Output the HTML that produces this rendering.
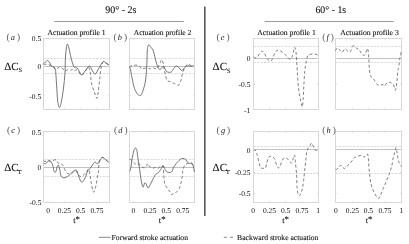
<!DOCTYPE html>
<html><head><meta charset="utf-8"><style>
html,body{margin:0;padding:0;background:#fff;}
body{width:409px;height:244px;overflow:hidden;}
svg text{stroke:#111;stroke-width:0.1px;}
svg{display:block;will-change:transform;font-family:"Liberation Serif",serif;text-rendering:geometricPrecision;-webkit-font-smoothing:antialiased;}
</style></head><body>
<svg width="409" height="244" viewBox="0 0 409 244">
<rect width="409" height="244" fill="#fff"/>
<line x1="43.5" y1="58.5" x2="109.5" y2="58.5" stroke="#d8d8d8" stroke-width="0.9" stroke-dasharray="2.4,1.1"/>
<line x1="43.5" y1="73.5" x2="109.5" y2="73.5" stroke="#d8d8d8" stroke-width="0.9" stroke-dasharray="2.4,1.1"/>
<line x1="43.5" y1="66.5" x2="109.5" y2="66.5" stroke="#c2c2c2" stroke-width="1"/>
<rect x="43.5" y="38.5" width="66.0" height="71.0" fill="none" stroke="#d8d8d8" stroke-width="1"/>
<line x1="129.5" y1="58.5" x2="194.5" y2="58.5" stroke="#d8d8d8" stroke-width="0.9" stroke-dasharray="2.4,1.1"/>
<line x1="129.5" y1="73.5" x2="194.5" y2="73.5" stroke="#d8d8d8" stroke-width="0.9" stroke-dasharray="2.4,1.1"/>
<line x1="129.5" y1="66.5" x2="194.5" y2="66.5" stroke="#c2c2c2" stroke-width="1"/>
<rect x="129.5" y="38.5" width="65.0" height="71.0" fill="none" stroke="#d8d8d8" stroke-width="1"/>
<line x1="43.5" y1="159.5" x2="109.5" y2="159.5" stroke="#d8d8d8" stroke-width="0.9" stroke-dasharray="2.4,1.1"/>
<line x1="43.5" y1="176.5" x2="109.5" y2="176.5" stroke="#d8d8d8" stroke-width="0.9" stroke-dasharray="2.4,1.1"/>
<line x1="43.5" y1="167.5" x2="109.5" y2="167.5" stroke="#c2c2c2" stroke-width="1"/>
<rect x="43.5" y="131.5" width="66.0" height="71.0" fill="none" stroke="#d8d8d8" stroke-width="1"/>
<line x1="129.5" y1="159.5" x2="194.5" y2="159.5" stroke="#d8d8d8" stroke-width="0.9" stroke-dasharray="2.4,1.1"/>
<line x1="129.5" y1="176.5" x2="194.5" y2="176.5" stroke="#d8d8d8" stroke-width="0.9" stroke-dasharray="2.4,1.1"/>
<line x1="129.5" y1="167.5" x2="194.5" y2="167.5" stroke="#c2c2c2" stroke-width="1"/>
<rect x="129.5" y="131.5" width="65.0" height="71.0" fill="none" stroke="#d8d8d8" stroke-width="1"/>
<line x1="253.5" y1="46.5" x2="318.5" y2="46.5" stroke="#d8d8d8" stroke-width="0.9" stroke-dasharray="2.4,1.1"/>
<line x1="253.5" y1="62.5" x2="318.5" y2="62.5" stroke="#d8d8d8" stroke-width="0.9" stroke-dasharray="2.4,1.1"/>
<line x1="253.5" y1="58.5" x2="318.5" y2="58.5" stroke="#c2c2c2" stroke-width="1"/>
<rect x="253.5" y="38.5" width="65.0" height="71.0" fill="none" stroke="#d8d8d8" stroke-width="1"/>
<line x1="335.5" y1="46.5" x2="401.5" y2="46.5" stroke="#d8d8d8" stroke-width="0.9" stroke-dasharray="2.4,1.1"/>
<line x1="335.5" y1="62.5" x2="401.5" y2="62.5" stroke="#d8d8d8" stroke-width="0.9" stroke-dasharray="2.4,1.1"/>
<line x1="335.5" y1="58.5" x2="401.5" y2="58.5" stroke="#c2c2c2" stroke-width="1"/>
<rect x="335.5" y="38.5" width="66.0" height="71.0" fill="none" stroke="#d8d8d8" stroke-width="1"/>
<line x1="253.5" y1="146.5" x2="318.5" y2="146.5" stroke="#d8d8d8" stroke-width="0.9" stroke-dasharray="2.4,1.1"/>
<line x1="253.5" y1="173.5" x2="318.5" y2="173.5" stroke="#d8d8d8" stroke-width="0.9" stroke-dasharray="2.4,1.1"/>
<line x1="253.5" y1="149.5" x2="318.5" y2="149.5" stroke="#c2c2c2" stroke-width="1"/>
<rect x="253.5" y="131.5" width="65.0" height="71.0" fill="none" stroke="#d8d8d8" stroke-width="1"/>
<line x1="335.5" y1="146.5" x2="401.5" y2="146.5" stroke="#d8d8d8" stroke-width="0.9" stroke-dasharray="2.4,1.1"/>
<line x1="335.5" y1="173.5" x2="401.5" y2="173.5" stroke="#d8d8d8" stroke-width="0.9" stroke-dasharray="2.4,1.1"/>
<line x1="335.5" y1="149.5" x2="401.5" y2="149.5" stroke="#c2c2c2" stroke-width="1"/>
<rect x="335.5" y="131.5" width="66.0" height="71.0" fill="none" stroke="#d8d8d8" stroke-width="1"/>
<line x1="48" y1="109.5" x2="48" y2="107.9" stroke="#d8d8d8" stroke-width="0.8"/>
<line x1="48" y1="38.5" x2="48" y2="40.1" stroke="#d8d8d8" stroke-width="0.8"/>
<line x1="64.4" y1="109.5" x2="64.4" y2="107.9" stroke="#d8d8d8" stroke-width="0.8"/>
<line x1="64.4" y1="38.5" x2="64.4" y2="40.1" stroke="#d8d8d8" stroke-width="0.8"/>
<line x1="80.6" y1="109.5" x2="80.6" y2="107.9" stroke="#d8d8d8" stroke-width="0.8"/>
<line x1="80.6" y1="38.5" x2="80.6" y2="40.1" stroke="#d8d8d8" stroke-width="0.8"/>
<line x1="97" y1="109.5" x2="97" y2="107.9" stroke="#d8d8d8" stroke-width="0.8"/>
<line x1="97" y1="38.5" x2="97" y2="40.1" stroke="#d8d8d8" stroke-width="0.8"/>
<line x1="43.5" y1="66.5" x2="45.1" y2="66.5" stroke="#d8d8d8" stroke-width="0.8"/>
<line x1="109.5" y1="66.5" x2="107.9" y2="66.5" stroke="#d8d8d8" stroke-width="0.8"/>
<line x1="43.5" y1="95" x2="45.1" y2="95" stroke="#d8d8d8" stroke-width="0.8"/>
<line x1="109.5" y1="95" x2="107.9" y2="95" stroke="#d8d8d8" stroke-width="0.8"/>
<line x1="133.3" y1="109.5" x2="133.3" y2="107.9" stroke="#d8d8d8" stroke-width="0.8"/>
<line x1="133.3" y1="38.5" x2="133.3" y2="40.1" stroke="#d8d8d8" stroke-width="0.8"/>
<line x1="150" y1="109.5" x2="150" y2="107.9" stroke="#d8d8d8" stroke-width="0.8"/>
<line x1="150" y1="38.5" x2="150" y2="40.1" stroke="#d8d8d8" stroke-width="0.8"/>
<line x1="166.3" y1="109.5" x2="166.3" y2="107.9" stroke="#d8d8d8" stroke-width="0.8"/>
<line x1="166.3" y1="38.5" x2="166.3" y2="40.1" stroke="#d8d8d8" stroke-width="0.8"/>
<line x1="182.7" y1="109.5" x2="182.7" y2="107.9" stroke="#d8d8d8" stroke-width="0.8"/>
<line x1="182.7" y1="38.5" x2="182.7" y2="40.1" stroke="#d8d8d8" stroke-width="0.8"/>
<line x1="129.5" y1="66.5" x2="131.1" y2="66.5" stroke="#d8d8d8" stroke-width="0.8"/>
<line x1="194.5" y1="66.5" x2="192.9" y2="66.5" stroke="#d8d8d8" stroke-width="0.8"/>
<line x1="129.5" y1="95" x2="131.1" y2="95" stroke="#d8d8d8" stroke-width="0.8"/>
<line x1="194.5" y1="95" x2="192.9" y2="95" stroke="#d8d8d8" stroke-width="0.8"/>
<line x1="48" y1="202.5" x2="48" y2="200.9" stroke="#d8d8d8" stroke-width="0.8"/>
<line x1="48" y1="131.5" x2="48" y2="133.1" stroke="#d8d8d8" stroke-width="0.8"/>
<line x1="64.4" y1="202.5" x2="64.4" y2="200.9" stroke="#d8d8d8" stroke-width="0.8"/>
<line x1="64.4" y1="131.5" x2="64.4" y2="133.1" stroke="#d8d8d8" stroke-width="0.8"/>
<line x1="80.6" y1="202.5" x2="80.6" y2="200.9" stroke="#d8d8d8" stroke-width="0.8"/>
<line x1="80.6" y1="131.5" x2="80.6" y2="133.1" stroke="#d8d8d8" stroke-width="0.8"/>
<line x1="97" y1="202.5" x2="97" y2="200.9" stroke="#d8d8d8" stroke-width="0.8"/>
<line x1="97" y1="131.5" x2="97" y2="133.1" stroke="#d8d8d8" stroke-width="0.8"/>
<line x1="43.5" y1="167.3" x2="45.1" y2="167.3" stroke="#d8d8d8" stroke-width="0.8"/>
<line x1="109.5" y1="167.3" x2="107.9" y2="167.3" stroke="#d8d8d8" stroke-width="0.8"/>
<line x1="133.3" y1="202.5" x2="133.3" y2="200.9" stroke="#d8d8d8" stroke-width="0.8"/>
<line x1="133.3" y1="131.5" x2="133.3" y2="133.1" stroke="#d8d8d8" stroke-width="0.8"/>
<line x1="150" y1="202.5" x2="150" y2="200.9" stroke="#d8d8d8" stroke-width="0.8"/>
<line x1="150" y1="131.5" x2="150" y2="133.1" stroke="#d8d8d8" stroke-width="0.8"/>
<line x1="166.3" y1="202.5" x2="166.3" y2="200.9" stroke="#d8d8d8" stroke-width="0.8"/>
<line x1="166.3" y1="131.5" x2="166.3" y2="133.1" stroke="#d8d8d8" stroke-width="0.8"/>
<line x1="182.7" y1="202.5" x2="182.7" y2="200.9" stroke="#d8d8d8" stroke-width="0.8"/>
<line x1="182.7" y1="131.5" x2="182.7" y2="133.1" stroke="#d8d8d8" stroke-width="0.8"/>
<line x1="129.5" y1="167.3" x2="131.1" y2="167.3" stroke="#d8d8d8" stroke-width="0.8"/>
<line x1="194.5" y1="167.3" x2="192.9" y2="167.3" stroke="#d8d8d8" stroke-width="0.8"/>
<line x1="269.5" y1="109.5" x2="269.5" y2="107.9" stroke="#d8d8d8" stroke-width="0.8"/>
<line x1="269.5" y1="38.5" x2="269.5" y2="40.1" stroke="#d8d8d8" stroke-width="0.8"/>
<line x1="285.6" y1="109.5" x2="285.6" y2="107.9" stroke="#d8d8d8" stroke-width="0.8"/>
<line x1="285.6" y1="38.5" x2="285.6" y2="40.1" stroke="#d8d8d8" stroke-width="0.8"/>
<line x1="302" y1="109.5" x2="302" y2="107.9" stroke="#d8d8d8" stroke-width="0.8"/>
<line x1="302" y1="38.5" x2="302" y2="40.1" stroke="#d8d8d8" stroke-width="0.8"/>
<line x1="253.5" y1="58.5" x2="255.1" y2="58.5" stroke="#d8d8d8" stroke-width="0.8"/>
<line x1="318.5" y1="58.5" x2="316.9" y2="58.5" stroke="#d8d8d8" stroke-width="0.8"/>
<line x1="253.5" y1="84.2" x2="255.1" y2="84.2" stroke="#d8d8d8" stroke-width="0.8"/>
<line x1="318.5" y1="84.2" x2="316.9" y2="84.2" stroke="#d8d8d8" stroke-width="0.8"/>
<line x1="352.4" y1="109.5" x2="352.4" y2="107.9" stroke="#d8d8d8" stroke-width="0.8"/>
<line x1="352.4" y1="38.5" x2="352.4" y2="40.1" stroke="#d8d8d8" stroke-width="0.8"/>
<line x1="368.4" y1="109.5" x2="368.4" y2="107.9" stroke="#d8d8d8" stroke-width="0.8"/>
<line x1="368.4" y1="38.5" x2="368.4" y2="40.1" stroke="#d8d8d8" stroke-width="0.8"/>
<line x1="385" y1="109.5" x2="385" y2="107.9" stroke="#d8d8d8" stroke-width="0.8"/>
<line x1="385" y1="38.5" x2="385" y2="40.1" stroke="#d8d8d8" stroke-width="0.8"/>
<line x1="335.5" y1="58.5" x2="337.1" y2="58.5" stroke="#d8d8d8" stroke-width="0.8"/>
<line x1="401.5" y1="58.5" x2="399.9" y2="58.5" stroke="#d8d8d8" stroke-width="0.8"/>
<line x1="335.5" y1="84.2" x2="337.1" y2="84.2" stroke="#d8d8d8" stroke-width="0.8"/>
<line x1="401.5" y1="84.2" x2="399.9" y2="84.2" stroke="#d8d8d8" stroke-width="0.8"/>
<line x1="269.5" y1="202.5" x2="269.5" y2="200.9" stroke="#d8d8d8" stroke-width="0.8"/>
<line x1="269.5" y1="131.5" x2="269.5" y2="133.1" stroke="#d8d8d8" stroke-width="0.8"/>
<line x1="285.6" y1="202.5" x2="285.6" y2="200.9" stroke="#d8d8d8" stroke-width="0.8"/>
<line x1="285.6" y1="131.5" x2="285.6" y2="133.1" stroke="#d8d8d8" stroke-width="0.8"/>
<line x1="302" y1="202.5" x2="302" y2="200.9" stroke="#d8d8d8" stroke-width="0.8"/>
<line x1="302" y1="131.5" x2="302" y2="133.1" stroke="#d8d8d8" stroke-width="0.8"/>
<line x1="253.5" y1="149.8" x2="255.1" y2="149.8" stroke="#d8d8d8" stroke-width="0.8"/>
<line x1="318.5" y1="149.8" x2="316.9" y2="149.8" stroke="#d8d8d8" stroke-width="0.8"/>
<line x1="253.5" y1="172.5" x2="255.1" y2="172.5" stroke="#d8d8d8" stroke-width="0.8"/>
<line x1="318.5" y1="172.5" x2="316.9" y2="172.5" stroke="#d8d8d8" stroke-width="0.8"/>
<line x1="253.5" y1="193.5" x2="255.1" y2="193.5" stroke="#d8d8d8" stroke-width="0.8"/>
<line x1="318.5" y1="193.5" x2="316.9" y2="193.5" stroke="#d8d8d8" stroke-width="0.8"/>
<line x1="352.4" y1="202.5" x2="352.4" y2="200.9" stroke="#d8d8d8" stroke-width="0.8"/>
<line x1="352.4" y1="131.5" x2="352.4" y2="133.1" stroke="#d8d8d8" stroke-width="0.8"/>
<line x1="368.4" y1="202.5" x2="368.4" y2="200.9" stroke="#d8d8d8" stroke-width="0.8"/>
<line x1="368.4" y1="131.5" x2="368.4" y2="133.1" stroke="#d8d8d8" stroke-width="0.8"/>
<line x1="385" y1="202.5" x2="385" y2="200.9" stroke="#d8d8d8" stroke-width="0.8"/>
<line x1="385" y1="131.5" x2="385" y2="133.1" stroke="#d8d8d8" stroke-width="0.8"/>
<line x1="335.5" y1="149.8" x2="337.1" y2="149.8" stroke="#d8d8d8" stroke-width="0.8"/>
<line x1="401.5" y1="149.8" x2="399.9" y2="149.8" stroke="#d8d8d8" stroke-width="0.8"/>
<line x1="335.5" y1="172.5" x2="337.1" y2="172.5" stroke="#d8d8d8" stroke-width="0.8"/>
<line x1="401.5" y1="172.5" x2="399.9" y2="172.5" stroke="#d8d8d8" stroke-width="0.8"/>
<line x1="335.5" y1="193.5" x2="337.1" y2="193.5" stroke="#d8d8d8" stroke-width="0.8"/>
<line x1="401.5" y1="193.5" x2="399.9" y2="193.5" stroke="#d8d8d8" stroke-width="0.8"/>
<path d="M43.50,64.30 C44.17,64.32 46.33,64.20 47.50,64.40 C48.67,64.60 49.50,65.07 50.50,65.50 C51.50,65.93 52.67,66.33 53.50,67.00 C54.33,67.67 54.83,69.30 55.50,69.50 C56.17,69.70 56.75,68.62 57.50,68.20 C58.25,67.78 59.12,66.93 60.00,67.00 C60.88,67.07 61.98,67.93 62.80,68.60 C63.62,69.27 64.28,70.68 64.90,71.00 C65.52,71.32 65.95,70.77 66.50,70.50 C67.05,70.23 67.52,69.45 68.20,69.40 C68.88,69.35 69.92,70.20 70.60,70.20 C71.28,70.20 71.73,69.27 72.30,69.40 C72.87,69.53 73.37,70.93 74.00,71.00 C74.63,71.07 75.35,69.72 76.10,69.80 C76.85,69.88 77.63,70.58 78.50,71.50 C79.37,72.42 80.38,75.05 81.30,75.30 C82.22,75.55 83.13,73.97 84.00,73.00 C84.87,72.03 85.75,70.50 86.50,69.50 C87.25,68.50 87.87,66.42 88.50,67.00 C89.13,67.58 89.80,70.28 90.30,73.00 C90.80,75.72 90.82,80.12 91.50,83.30 C92.18,86.48 93.50,89.58 94.40,92.10 C95.30,94.62 96.27,98.40 96.90,98.40 C97.53,98.40 97.75,95.10 98.20,92.10 C98.65,89.10 99.25,83.58 99.60,80.40 C99.95,77.22 99.98,75.40 100.30,73.00 C100.62,70.60 101.02,67.90 101.50,66.00 C101.98,64.10 102.45,62.10 103.20,61.60 C103.95,61.10 105.03,62.43 106.00,63.00 C106.97,63.57 108.50,64.67 109.00,65.00" fill="none" stroke="#565656" stroke-width="0.75" stroke-linejoin="round" stroke-dasharray="3,2.2"/>
<path d="M43.50,63.60 C43.83,63.33 44.77,62.50 45.50,62.00 C46.23,61.50 47.08,60.27 47.90,60.60 C48.72,60.93 49.85,63.15 50.40,64.00 C50.95,64.85 50.65,65.22 51.20,65.70 C51.75,66.18 53.02,66.30 53.70,66.90 C54.38,67.50 54.95,68.28 55.30,69.30 C55.65,70.32 55.58,70.38 55.80,73.00 C56.02,75.62 56.28,80.33 56.60,85.00 C56.92,89.67 57.22,97.23 57.70,101.00 C58.18,104.77 58.87,107.60 59.50,107.60 C60.13,107.60 60.83,104.27 61.50,101.00 C62.17,97.73 62.92,92.67 63.50,88.00 C64.08,83.33 64.68,78.00 65.00,73.00 C65.32,68.00 65.17,62.17 65.40,58.00 C65.63,53.83 66.07,50.32 66.40,48.00 C66.73,45.68 66.98,44.10 67.40,44.10 C67.82,44.10 68.28,45.68 68.90,48.00 C69.52,50.32 70.30,54.92 71.10,58.00 C71.90,61.08 73.00,64.95 73.70,66.50 C74.40,68.05 74.70,67.03 75.30,67.30 C75.90,67.57 76.68,67.48 77.30,68.10 C77.92,68.72 78.23,69.87 79.00,71.00 C79.77,72.13 80.90,74.90 81.90,74.90 C82.90,74.90 83.77,72.48 85.00,71.00 C86.23,69.52 88.13,66.17 89.30,66.00 C90.47,65.83 91.03,68.65 92.00,70.00 C92.97,71.35 93.93,74.43 95.10,74.10 C96.27,73.77 97.65,70.08 99.00,68.00 C100.35,65.92 102.03,62.43 103.20,61.60 C104.37,60.77 105.03,62.43 106.00,63.00 C106.97,63.57 108.50,64.67 109.00,65.00" fill="none" stroke="#545454" stroke-width="0.8" stroke-linejoin="round"/>
<path d="M129.50,67.00 C129.75,66.83 130.35,66.27 131.00,66.00 C131.65,65.73 132.38,65.53 133.40,65.40 C134.42,65.27 136.00,65.00 137.10,65.20 C138.20,65.40 139.27,66.00 140.00,66.60 C140.73,67.20 140.63,68.55 141.50,68.80 C142.37,69.05 144.10,68.22 145.20,68.10 C146.30,67.98 147.23,67.98 148.10,68.10 C148.97,68.22 149.65,68.92 150.40,68.80 C151.15,68.68 151.92,67.47 152.60,67.40 C153.28,67.33 153.78,68.23 154.50,68.40 C155.22,68.57 156.30,68.60 156.90,68.40 C157.50,68.20 157.55,68.15 158.10,67.20 C158.65,66.25 159.58,63.93 160.20,62.70 C160.82,61.47 161.32,59.80 161.80,59.80 C162.28,59.80 162.75,61.33 163.10,62.70 C163.45,64.07 163.52,66.02 163.90,68.00 C164.28,69.98 164.88,72.55 165.40,74.60 C165.92,76.65 166.05,79.07 167.00,80.30 C167.95,81.53 169.87,81.45 171.10,82.00 C172.33,82.55 173.17,83.07 174.40,83.60 C175.63,84.13 177.40,85.75 178.50,85.20 C179.60,84.65 180.32,82.33 181.00,80.30 C181.68,78.27 181.93,75.18 182.60,73.00 C183.27,70.82 184.05,68.70 185.00,67.20 C185.95,65.70 187.33,64.27 188.30,64.00 C189.27,63.73 189.85,65.33 190.80,65.60 C191.75,65.87 193.47,65.60 194.00,65.60" fill="none" stroke="#565656" stroke-width="0.75" stroke-linejoin="round" stroke-dasharray="3,2.2"/>
<path d="M129.50,66.60 C129.67,67.10 130.08,67.75 130.50,69.60 C130.92,71.45 131.33,74.53 132.00,77.70 C132.67,80.87 133.57,85.85 134.50,88.60 C135.43,91.35 136.72,93.07 137.60,94.20 C138.48,95.33 139.18,95.30 139.80,95.40 C140.42,95.50 140.63,96.03 141.30,94.80 C141.97,93.57 143.08,90.47 143.80,88.00 C144.52,85.53 145.12,83.43 145.60,80.00 C146.08,76.57 146.43,72.07 146.70,67.40 C146.97,62.73 147.02,55.48 147.20,52.00 C147.38,48.52 147.50,47.68 147.80,46.50 C148.10,45.32 148.45,44.73 149.00,44.90 C149.55,45.07 150.38,46.55 151.10,47.50 C151.82,48.45 152.70,49.15 153.30,50.60 C153.90,52.05 154.23,54.35 154.70,56.20 C155.17,58.05 155.63,59.97 156.10,61.70 C156.57,63.43 157.03,65.42 157.50,66.60 C157.97,67.78 158.52,68.33 158.90,68.80 C159.28,69.27 159.38,69.47 159.80,69.40 C160.22,69.33 160.85,68.92 161.40,68.40 C161.95,67.88 162.62,66.50 163.10,66.30 C163.58,66.10 163.83,66.43 164.30,67.20 C164.77,67.97 165.32,70.08 165.90,70.90 C166.48,71.72 166.93,71.90 167.80,72.10 C168.67,72.30 170.13,72.63 171.10,72.10 C172.07,71.57 172.78,69.90 173.60,68.90 C174.42,67.90 175.18,66.38 176.00,66.10 C176.82,65.82 177.53,66.47 178.50,67.20 C179.47,67.93 180.85,70.37 181.80,70.50 C182.75,70.63 183.25,68.82 184.20,68.00 C185.15,67.18 186.40,65.87 187.50,65.60 C188.60,65.33 189.72,66.40 190.80,66.40 C191.88,66.40 193.47,65.73 194.00,65.60" fill="none" stroke="#545454" stroke-width="0.8" stroke-linejoin="round"/>
<path d="M43.50,160.80 C43.75,160.90 44.15,161.43 45.00,161.40 C45.85,161.37 47.48,160.55 48.60,160.60 C49.72,160.65 50.97,161.72 51.70,161.70 C52.43,161.68 52.28,160.82 53.00,160.50 C53.72,160.18 55.27,159.55 56.00,159.80 C56.73,160.05 56.98,161.40 57.40,162.00 C57.82,162.60 57.90,163.15 58.50,163.40 C59.10,163.65 60.33,163.23 61.00,163.50 C61.67,163.77 61.93,164.15 62.50,165.00 C63.07,165.85 63.72,167.30 64.40,168.60 C65.08,169.90 65.87,171.97 66.60,172.80 C67.33,173.63 67.82,173.60 68.80,173.60 C69.78,173.60 71.40,173.30 72.50,172.80 C73.60,172.30 74.45,170.33 75.40,170.60 C76.35,170.87 77.37,173.40 78.20,174.40 C79.03,175.40 79.53,176.48 80.40,176.60 C81.27,176.72 82.42,175.83 83.40,175.10 C84.38,174.37 85.43,173.18 86.30,172.20 C87.17,171.22 87.95,168.53 88.60,169.20 C89.25,169.87 89.73,173.82 90.20,176.20 C90.67,178.58 90.90,180.87 91.40,183.50 C91.90,186.13 92.63,190.98 93.20,192.00 C93.77,193.02 94.28,190.92 94.80,189.60 C95.32,188.28 95.85,186.33 96.30,184.10 C96.75,181.87 97.13,178.35 97.50,176.20 C97.87,174.05 98.27,173.10 98.50,171.20 C98.73,169.30 98.58,166.73 98.90,164.80 C99.22,162.87 99.78,160.83 100.40,159.60 C101.02,158.37 101.75,157.40 102.60,157.40 C103.45,157.40 104.40,158.73 105.50,159.60 C106.60,160.47 108.58,162.10 109.20,162.60" fill="none" stroke="#565656" stroke-width="0.75" stroke-linejoin="round" stroke-dasharray="3,2.2"/>
<path d="M43.50,163.20 C43.85,163.28 44.92,163.95 45.60,163.70 C46.28,163.45 47.02,162.22 47.60,161.70 C48.18,161.18 48.50,160.52 49.10,160.60 C49.70,160.68 50.60,161.43 51.20,162.20 C51.80,162.97 52.27,163.83 52.70,165.20 C53.13,166.57 53.40,169.20 53.80,170.40 C54.20,171.60 54.68,172.40 55.10,172.40 C55.52,172.40 55.93,171.42 56.30,170.40 C56.67,169.38 56.95,167.17 57.30,166.30 C57.65,165.43 58.05,164.95 58.40,165.20 C58.75,165.45 58.98,166.08 59.40,167.80 C59.82,169.52 60.38,173.88 60.90,175.50 C61.42,177.12 61.80,177.13 62.50,177.50 C63.20,177.87 64.30,177.87 65.10,177.70 C65.90,177.53 66.45,177.07 67.30,176.50 C68.15,175.93 69.22,175.15 70.20,174.30 C71.18,173.45 72.23,172.12 73.20,171.40 C74.17,170.68 75.28,169.87 76.00,170.00 C76.72,170.13 77.00,170.98 77.50,172.20 C78.00,173.42 78.38,175.70 79.00,177.30 C79.62,178.90 80.47,181.18 81.20,181.80 C81.93,182.42 82.67,181.87 83.40,181.00 C84.13,180.13 84.87,178.32 85.60,176.60 C86.33,174.88 86.93,172.18 87.80,170.70 C88.67,169.22 89.93,168.82 90.80,167.70 C91.67,166.58 92.27,164.93 93.00,164.00 C93.73,163.07 94.47,162.10 95.20,162.10 C95.93,162.10 96.67,164.30 97.40,164.00 C98.13,163.70 98.73,161.40 99.60,160.30 C100.47,159.20 101.62,157.52 102.60,157.40 C103.58,157.28 104.40,158.73 105.50,159.60 C106.60,160.47 108.58,162.10 109.20,162.60" fill="none" stroke="#545454" stroke-width="0.8" stroke-linejoin="round"/>
<path d="M129.50,159.10 C129.77,159.22 130.53,159.38 131.10,159.80 C131.67,160.22 132.28,160.98 132.90,161.60 C133.52,162.22 134.18,162.98 134.80,163.50 C135.42,164.02 135.98,164.60 136.60,164.70 C137.22,164.80 137.88,164.10 138.50,164.10 C139.12,164.10 139.70,164.20 140.30,164.70 C140.90,165.20 141.38,166.58 142.10,167.10 C142.82,167.62 143.87,168.00 144.60,167.80 C145.33,167.60 145.98,166.62 146.50,165.90 C147.02,165.18 147.30,163.50 147.70,163.50 C148.10,163.50 148.33,165.25 148.90,165.90 C149.47,166.55 150.37,167.03 151.10,167.40 C151.83,167.77 152.57,168.10 153.30,168.10 C154.03,168.10 154.63,167.40 155.50,167.40 C156.37,167.40 157.63,168.35 158.50,168.10 C159.37,167.85 159.93,166.17 160.70,165.90 C161.47,165.63 162.57,164.72 163.10,166.50 C163.63,168.28 163.65,173.83 163.90,176.60 C164.15,179.37 164.22,181.45 164.60,183.10 C164.98,184.75 165.60,185.38 166.20,186.50 C166.80,187.62 167.55,188.88 168.20,189.80 C168.85,190.72 169.60,191.20 170.10,192.00 C170.60,192.80 170.47,194.43 171.20,194.60 C171.93,194.77 173.48,193.55 174.50,193.00 C175.52,192.45 176.47,192.17 177.30,191.30 C178.13,190.43 178.88,189.27 179.50,187.80 C180.12,186.33 180.58,184.22 181.00,182.50 C181.42,180.78 181.73,179.17 182.00,177.50 C182.27,175.83 182.40,173.88 182.60,172.50 C182.80,171.12 182.87,170.37 183.20,169.20 C183.53,168.03 183.85,166.47 184.60,165.50 C185.35,164.53 186.67,163.75 187.70,163.40 C188.73,163.05 189.77,163.05 190.80,163.40 C191.83,163.75 193.38,165.15 193.90,165.50" fill="none" stroke="#565656" stroke-width="0.75" stroke-linejoin="round" stroke-dasharray="3,2.2"/>
<path d="M129.80,171.40 C130.02,170.58 130.78,168.23 131.10,166.50 C131.42,164.77 131.40,162.95 131.70,161.00 C132.00,159.05 132.50,156.65 132.90,154.80 C133.30,152.95 133.65,151.02 134.10,149.90 C134.55,148.78 135.13,148.00 135.60,148.10 C136.07,148.20 136.53,148.97 136.90,150.50 C137.27,152.03 137.48,155.03 137.80,157.30 C138.12,159.57 138.48,162.05 138.80,164.10 C139.12,166.15 139.45,167.87 139.70,169.60 C139.95,171.33 140.00,172.42 140.30,174.50 C140.60,176.58 141.03,179.98 141.50,182.10 C141.97,184.22 142.58,187.05 143.10,187.20 C143.62,187.35 144.12,183.57 144.60,183.00 C145.08,182.43 145.42,182.97 146.00,183.80 C146.58,184.63 147.37,187.92 148.10,188.00 C148.83,188.08 149.65,185.65 150.40,184.30 C151.15,182.95 151.87,181.37 152.60,179.90 C153.33,178.43 154.20,176.48 154.80,175.50 C155.40,174.52 155.58,174.50 156.20,174.00 C156.82,173.50 157.75,173.23 158.50,172.50 C159.25,171.77 159.93,170.77 160.70,169.60 C161.47,168.43 162.35,165.50 163.10,165.50 C163.85,165.50 164.52,168.52 165.20,169.60 C165.88,170.68 166.32,171.53 167.20,172.00 C168.08,172.47 169.63,172.62 170.50,172.40 C171.37,172.18 171.92,171.52 172.40,170.70 C172.88,169.88 172.73,168.72 173.40,167.50 C174.07,166.28 175.47,164.57 176.40,163.40 C177.33,162.23 178.15,161.30 179.00,160.50 C179.85,159.70 180.57,158.87 181.50,158.60 C182.43,158.33 183.85,158.70 184.60,158.90 C185.35,159.10 185.52,159.23 186.00,159.80 C186.48,160.37 186.92,161.68 187.50,162.30 C188.08,162.92 188.83,163.40 189.50,163.50 C190.17,163.60 191.00,162.80 191.50,162.90 C192.00,163.00 192.17,163.38 192.50,164.10 C192.83,164.82 193.18,165.88 193.50,167.20 C193.82,168.52 194.25,171.20 194.40,172.00" fill="none" stroke="#545454" stroke-width="0.8" stroke-linejoin="round"/>
<path d="M253.50,57.10 C253.78,57.23 254.55,57.90 255.20,57.90 C255.85,57.90 256.67,57.83 257.40,57.10 C258.13,56.37 258.87,54.47 259.60,53.50 C260.33,52.53 261.07,51.43 261.80,51.30 C262.53,51.17 263.25,51.73 264.00,52.70 C264.75,53.67 265.55,55.87 266.30,57.10 C267.05,58.33 267.82,59.40 268.50,60.10 C269.18,60.80 269.80,61.35 270.40,61.30 C271.00,61.25 271.57,60.73 272.10,59.80 C272.63,58.87 272.98,57.08 273.60,55.70 C274.22,54.32 275.07,52.43 275.80,51.50 C276.53,50.57 277.13,50.13 278.00,50.10 C278.87,50.07 280.02,50.73 281.00,51.30 C281.98,51.87 282.87,52.63 283.90,53.50 C284.93,54.37 286.15,55.52 287.20,56.50 C288.25,57.48 289.33,59.53 290.20,59.40 C291.07,59.27 291.78,57.30 292.40,55.70 C293.02,54.10 293.53,51.22 293.90,49.80 C294.27,48.38 294.32,47.25 294.60,47.20 C294.88,47.15 295.33,48.37 295.60,49.50 C295.87,50.63 296.03,51.98 296.20,54.00 C296.37,56.02 296.42,58.93 296.60,61.60 C296.78,64.27 297.10,66.97 297.30,70.00 C297.50,73.03 297.53,76.25 297.80,79.80 C298.07,83.35 298.40,87.77 298.90,91.30 C299.40,94.83 300.25,98.42 300.80,101.00 C301.35,103.58 301.82,106.97 302.20,106.80 C302.58,106.63 302.83,103.40 303.10,100.00 C303.37,96.60 303.53,91.13 303.80,86.40 C304.07,81.67 304.35,75.42 304.70,71.60 C305.05,67.78 305.58,65.52 305.90,63.50 C306.22,61.48 306.25,60.88 306.60,59.50 C306.95,58.12 307.43,56.02 308.00,55.20 C308.57,54.38 309.08,54.83 310.00,54.60 C310.92,54.37 312.50,53.87 313.50,53.80 C314.50,53.73 315.25,53.97 316.00,54.20 C316.75,54.43 317.67,55.03 318.00,55.20" fill="none" stroke="#565656" stroke-width="0.75" stroke-linejoin="round" stroke-dasharray="3,2.2"/>
<path d="M335.50,50.80 C335.80,50.32 336.55,47.98 337.30,47.90 C338.05,47.82 339.22,49.57 340.00,50.30 C340.78,51.03 341.33,52.38 342.00,52.30 C342.67,52.22 343.50,50.40 344.00,49.80 C344.50,49.20 344.58,48.70 345.00,48.70 C345.42,48.70 346.00,49.32 346.50,49.80 C347.00,50.28 347.42,51.23 348.00,51.60 C348.58,51.97 349.50,52.17 350.00,52.00 C350.50,51.83 350.67,51.37 351.00,50.60 C351.33,49.83 351.58,48.22 352.00,47.40 C352.42,46.58 353.00,45.87 353.50,45.70 C354.00,45.53 354.50,45.95 355.00,46.40 C355.50,46.85 355.83,47.88 356.50,48.40 C357.17,48.92 358.33,48.93 359.00,49.50 C359.67,50.07 360.08,51.08 360.50,51.80 C360.92,52.52 361.08,53.23 361.50,53.80 C361.92,54.37 362.50,54.97 363.00,55.20 C363.50,55.43 364.08,55.43 364.50,55.20 C364.92,54.97 365.17,54.53 365.50,53.80 C365.83,53.07 366.17,51.70 366.50,50.80 C366.83,49.90 367.20,48.23 367.50,48.40 C367.80,48.57 368.12,50.58 368.30,51.80 C368.48,53.02 368.50,54.33 368.60,55.70 C368.70,57.07 368.78,57.90 368.90,60.00 C369.02,62.10 369.05,65.70 369.30,68.30 C369.55,70.90 369.85,74.00 370.40,75.60 C370.95,77.20 371.87,77.03 372.60,77.90 C373.33,78.77 374.05,79.70 374.80,80.80 C375.55,81.90 376.23,83.77 377.10,84.50 C377.97,85.23 379.02,85.20 380.00,85.20 C380.98,85.20 382.25,84.37 383.00,84.50 C383.75,84.63 383.85,86.27 384.50,86.00 C385.15,85.73 386.08,83.52 386.90,82.90 C387.72,82.28 388.68,82.30 389.40,82.30 C390.12,82.30 390.58,82.60 391.20,82.90 C391.82,83.20 392.58,83.38 393.10,84.10 C393.62,84.82 393.93,86.17 394.30,87.20 C394.67,88.23 395.00,90.30 395.30,90.30 C395.60,90.30 395.85,88.53 396.10,87.20 C396.35,85.87 396.58,84.13 396.80,82.30 C397.02,80.47 397.22,78.25 397.40,76.20 C397.58,74.15 397.70,71.37 397.90,70.00 C398.10,68.63 398.37,69.27 398.60,68.00 C398.83,66.73 399.08,64.03 399.30,62.40 C399.52,60.77 399.68,59.37 399.90,58.20 C400.12,57.03 400.37,56.57 400.60,55.40 C400.83,54.23 401.18,51.90 401.30,51.20" fill="none" stroke="#565656" stroke-width="0.75" stroke-linejoin="round" stroke-dasharray="3,2.2"/>
<path d="M253.50,150.60 C253.78,150.50 254.67,149.55 255.20,150.00 C255.73,150.45 256.20,151.78 256.70,153.30 C257.20,154.82 257.72,157.15 258.20,159.10 C258.68,161.05 259.12,163.52 259.60,165.00 C260.08,166.48 260.48,167.45 261.10,168.00 C261.72,168.55 262.57,168.30 263.30,168.30 C264.03,168.30 264.88,169.03 265.50,168.00 C266.12,166.97 266.50,163.82 267.00,162.10 C267.50,160.38 268.02,158.68 268.50,157.70 C268.98,156.72 269.30,156.33 269.90,156.20 C270.50,156.07 271.35,156.53 272.10,156.90 C272.85,157.27 273.78,157.42 274.40,158.40 C275.02,159.38 275.32,161.45 275.80,162.80 C276.28,164.15 276.80,165.63 277.30,166.50 C277.80,167.37 278.32,168.12 278.80,168.00 C279.28,167.88 279.72,166.90 280.20,165.80 C280.68,164.70 281.20,162.55 281.70,161.40 C282.20,160.25 282.58,159.47 283.20,158.90 C283.82,158.33 284.73,158.05 285.40,158.00 C286.07,157.95 286.53,158.13 287.20,158.60 C287.87,159.07 288.67,160.05 289.40,160.80 C290.13,161.55 290.98,163.47 291.60,163.10 C292.22,162.73 292.60,159.97 293.10,158.60 C293.60,157.23 294.23,154.40 294.60,154.90 C294.97,155.40 295.03,159.08 295.30,161.60 C295.57,164.12 295.97,167.35 296.20,170.00 C296.43,172.65 296.55,174.43 296.70,177.50 C296.85,180.57 296.85,185.55 297.10,188.40 C297.35,191.25 297.83,193.43 298.20,194.60 C298.57,195.77 298.85,195.53 299.30,195.40 C299.75,195.27 300.38,194.97 300.90,193.80 C301.42,192.63 301.95,190.60 302.40,188.40 C302.85,186.20 303.23,183.47 303.60,180.60 C303.97,177.73 304.23,174.63 304.60,171.20 C304.97,167.77 305.47,163.12 305.80,160.00 C306.13,156.88 306.23,154.42 306.60,152.50 C306.97,150.58 307.42,149.70 308.00,148.50 C308.58,147.30 309.50,146.20 310.10,145.30 C310.70,144.40 311.10,142.97 311.60,143.10 C312.10,143.23 312.62,145.12 313.10,146.10 C313.58,147.08 314.02,148.27 314.50,149.00 C314.98,149.73 315.45,150.42 316.00,150.50 C316.55,150.58 317.50,149.67 317.80,149.50" fill="none" stroke="#565656" stroke-width="0.75" stroke-linejoin="round" stroke-dasharray="3,2.2"/>
<path d="M335.80,168.70 C335.92,168.83 336.02,169.75 336.50,169.50 C336.98,169.25 337.97,167.90 338.70,167.20 C339.43,166.50 340.28,165.42 340.90,165.30 C341.52,165.18 341.87,165.93 342.40,166.50 C342.93,167.07 343.50,168.58 344.10,168.70 C344.70,168.82 345.30,167.82 346.00,167.20 C346.70,166.58 347.55,165.73 348.30,165.00 C349.05,164.27 349.77,163.65 350.50,162.80 C351.23,161.95 351.97,160.80 352.70,159.90 C353.43,159.00 354.17,157.97 354.90,157.40 C355.63,156.83 356.25,156.82 357.10,156.50 C357.95,156.18 359.15,155.67 360.00,155.50 C360.85,155.33 361.45,155.27 362.20,155.50 C362.95,155.73 363.75,157.03 364.50,156.90 C365.25,156.77 366.17,155.13 366.70,154.70 C367.23,154.27 367.38,153.27 367.70,154.30 C368.02,155.33 368.33,158.00 368.60,160.90 C368.87,163.80 368.90,167.85 369.30,171.70 C369.70,175.55 370.18,180.53 371.00,184.00 C371.82,187.47 373.03,190.12 374.20,192.50 C375.37,194.88 376.97,197.80 378.00,198.30 C379.03,198.80 379.53,197.13 380.40,195.50 C381.27,193.87 382.17,191.00 383.20,188.50 C384.23,186.00 385.55,183.05 386.60,180.50 C387.65,177.95 388.62,175.70 389.50,173.20 C390.38,170.70 391.28,168.10 391.90,165.50 C392.52,162.90 392.75,159.72 393.20,157.60 C393.65,155.48 394.17,154.43 394.60,152.80 C395.03,151.17 395.42,148.02 395.80,147.80 C396.18,147.58 396.58,150.05 396.90,151.50 C397.22,152.95 397.38,154.75 397.70,156.50 C398.02,158.25 398.35,160.68 398.80,162.00 C399.25,163.32 400.00,163.65 400.40,164.40 C400.80,165.15 401.07,166.15 401.20,166.50" fill="none" stroke="#565656" stroke-width="0.75" stroke-linejoin="round" stroke-dasharray="3,2.2"/>
<line x1="54.3" y1="21.5" x2="183.8" y2="21.5" stroke="#999" stroke-width="1"/>
<line x1="264.7" y1="21.5" x2="393.6" y2="21.5" stroke="#999" stroke-width="1"/>
<line x1="204.8" y1="6.5" x2="204.8" y2="216" stroke="#5a5a5a" stroke-width="1.6"/>
<text x="105.2" y="13.2" font-size="10.1" text-anchor="start" fill="#111" textLength="31.3" lengthAdjust="spacingAndGlyphs" style="">90° - 2s</text>
<text x="315.4" y="13.2" font-size="10.1" text-anchor="start" fill="#111" textLength="30.8" lengthAdjust="spacingAndGlyphs" style="">60° - 1s</text>
<text x="47.5" y="34.9" font-size="7.6" text-anchor="start" fill="#111" textLength="58" lengthAdjust="spacingAndGlyphs" style="">Actuation profile 1</text>
<text x="133.7" y="34.9" font-size="7.6" text-anchor="start" fill="#111" textLength="57.6" lengthAdjust="spacingAndGlyphs" style="">Actuation profile 2</text>
<text x="257.3" y="34.9" font-size="7.6" text-anchor="start" fill="#111" textLength="58.5" lengthAdjust="spacingAndGlyphs" style="">Actuation profile 1</text>
<text x="340.3" y="34.9" font-size="7.6" text-anchor="start" fill="#111" textLength="58.5" lengthAdjust="spacingAndGlyphs" style="">Actuation profile 3</text>
<text x="6.4" y="40.4" font-size="9.4" fill="#555" style="stroke:none">(<tspan dx="1.2" font-size="8.4" font-style="italic" fill="#1a1a1a">a</tspan><tspan dx="2.0">)</tspan></text>
<text x="113.5" y="40.4" font-size="9.4" fill="#555" style="stroke:none">(<tspan dx="1.2" font-size="8.4" font-style="italic" fill="#1a1a1a">b</tspan><tspan dx="2.0">)</tspan></text>
<text x="216.5" y="40.4" font-size="9.4" fill="#555" style="stroke:none">(<tspan dx="1.2" font-size="8.4" font-style="italic" fill="#1a1a1a">e</tspan><tspan dx="2.0">)</tspan></text>
<text x="322.2" y="40.4" font-size="9.4" fill="#555" style="stroke:none">(<tspan dx="1.2" font-size="8.4" font-style="italic" fill="#1a1a1a">f</tspan><tspan dx="2.0">)</tspan></text>
<text x="7.0" y="133.2" font-size="9.4" fill="#555" style="stroke:none">(<tspan dx="1.2" font-size="8.4" font-style="italic" fill="#1a1a1a">c</tspan><tspan dx="2.0">)</tspan></text>
<text x="114" y="133.2" font-size="9.4" fill="#555" style="stroke:none">(<tspan dx="1.2" font-size="8.4" font-style="italic" fill="#1a1a1a">d</tspan><tspan dx="2.0">)</tspan></text>
<text x="216.6" y="133.2" font-size="9.4" fill="#555" style="stroke:none">(<tspan dx="1.2" font-size="8.4" font-style="italic" fill="#1a1a1a">g</tspan><tspan dx="2.0">)</tspan></text>
<text x="322.2" y="133.2" font-size="9.4" fill="#555" style="stroke:none">(<tspan dx="1.2" font-size="8.4" font-style="italic" fill="#1a1a1a">h</tspan><tspan dx="2.0">)</tspan></text>
<text x="41.2" y="41.1" font-size="7.5" text-anchor="end" fill="#111" style="stroke:none">0.5</text>
<text x="41.2" y="69.4" font-size="7.5" text-anchor="end" fill="#111" style="stroke:none">0</text>
<text x="41.2" y="98.5" font-size="7.5" text-anchor="end" fill="#111" style="stroke:none">-0.5</text>
<text x="41.2" y="134.8" font-size="7.5" text-anchor="end" fill="#111" style="stroke:none">0.5</text>
<text x="41.2" y="170.3" font-size="7.5" text-anchor="end" fill="#111" style="stroke:none">0</text>
<text x="41.4" y="205.4" font-size="7.5" text-anchor="end" fill="#111" style="stroke:none">-0.5</text>
<text x="250.4" y="61.4" font-size="7.5" text-anchor="end" fill="#111" style="stroke:none">0</text>
<text x="250.4" y="87.3" font-size="7.5" text-anchor="end" fill="#111" style="stroke:none">-0.5</text>
<text x="250.2" y="113.0" font-size="7.5" text-anchor="end" fill="#111" style="stroke:none">-1</text>
<text x="250.4" y="152.8" font-size="7.5" text-anchor="end" fill="#111" style="stroke:none">0</text>
<text x="250.5" y="175.0" font-size="7.5" text-anchor="end" fill="#111" style="stroke:none">-0.25</text>
<text x="250.6" y="196.3" font-size="7.5" text-anchor="end" fill="#111" style="stroke:none">-0.5</text>
<text x="48" y="212.8" font-size="7.5" text-anchor="middle" fill="#111" style="stroke:none">0</text>
<text x="64.4" y="212.8" font-size="7.5" text-anchor="middle" fill="#111" style="stroke:none">0.25</text>
<text x="80.6" y="212.8" font-size="7.5" text-anchor="middle" fill="#111" style="stroke:none">0.5</text>
<text x="97" y="212.8" font-size="7.5" text-anchor="middle" fill="#111" style="stroke:none">0.75</text>
<text x="133.3" y="212.8" font-size="7.5" text-anchor="middle" fill="#111" style="stroke:none">0</text>
<text x="150" y="212.8" font-size="7.5" text-anchor="middle" fill="#111" style="stroke:none">0.25</text>
<text x="166.3" y="212.8" font-size="7.5" text-anchor="middle" fill="#111" style="stroke:none">0.5</text>
<text x="182.7" y="212.8" font-size="7.5" text-anchor="middle" fill="#111" style="stroke:none">0.75</text>
<text x="253.2" y="212.8" font-size="7.5" text-anchor="middle" fill="#111" style="stroke:none">0</text>
<text x="269.5" y="212.8" font-size="7.5" text-anchor="middle" fill="#111" style="stroke:none">0.25</text>
<text x="285.6" y="212.8" font-size="7.5" text-anchor="middle" fill="#111" style="stroke:none">0.5</text>
<text x="302" y="212.8" font-size="7.5" text-anchor="middle" fill="#111" style="stroke:none">0.75</text>
<text x="318" y="212.8" font-size="7.5" text-anchor="middle" fill="#111" style="stroke:none">1</text>
<text x="335.8" y="212.8" font-size="7.5" text-anchor="middle" fill="#111" style="stroke:none">0</text>
<text x="352.4" y="212.8" font-size="7.5" text-anchor="middle" fill="#111" style="stroke:none">0.25</text>
<text x="368.4" y="212.8" font-size="7.5" text-anchor="middle" fill="#111" style="stroke:none">0.5</text>
<text x="385" y="212.8" font-size="7.5" text-anchor="middle" fill="#111" style="stroke:none">0.75</text>
<text x="401.3" y="212.8" font-size="7.5" text-anchor="middle" fill="#111" style="stroke:none">1</text>
<text x="76.5" y="222.8" font-size="8.2" text-anchor="middle" fill="#111">t<tspan dy="-0.4" font-size="8.8">*</tspan></text>
<text x="162.2" y="222.8" font-size="8.2" text-anchor="middle" fill="#111">t<tspan dy="-0.4" font-size="8.8">*</tspan></text>
<text x="285.6" y="222.8" font-size="8.2" text-anchor="middle" fill="#111">t<tspan dy="-0.4" font-size="8.8">*</tspan></text>
<text x="369.1" y="222.8" font-size="8.2" text-anchor="middle" fill="#111">t<tspan dy="-0.4" font-size="8.8">*</tspan></text>
<text x="4.3" y="69.7" font-size="11" fill="#111">ΔC<tspan font-size="6.4" dx="-0.1" dy="2.4">S</tspan></text>
<text x="4.3" y="171.2" font-size="11" fill="#111">ΔC<tspan font-size="6.0" dx="-0.9" dy="2.7">T</tspan></text>
<text x="212.6" y="70.1" font-size="11" fill="#111">ΔC<tspan font-size="6.4" dx="-0.1" dy="2.4">S</tspan></text>
<text x="212.6" y="170.8" font-size="11" fill="#111">ΔC<tspan font-size="6.0" dx="-0.9" dy="2.7">T</tspan></text>
<line x1="98.8" y1="237.3" x2="110.7" y2="237.3" stroke="#555" stroke-width="0.7"/>
<text x="111.6" y="240" font-size="7.6" text-anchor="start" fill="#111" textLength="76.4" lengthAdjust="spacingAndGlyphs" style="">Forward stroke actuation</text>
<line x1="223.8" y1="237.3" x2="233.4" y2="237.3" stroke="#555" stroke-width="0.7" stroke-dasharray="3,3.2"/>
<text x="237.1" y="240" font-size="7.6" text-anchor="start" fill="#111" textLength="81.3" lengthAdjust="spacingAndGlyphs" style="">Backward stroke actuation</text>
</svg>
</body></html>
